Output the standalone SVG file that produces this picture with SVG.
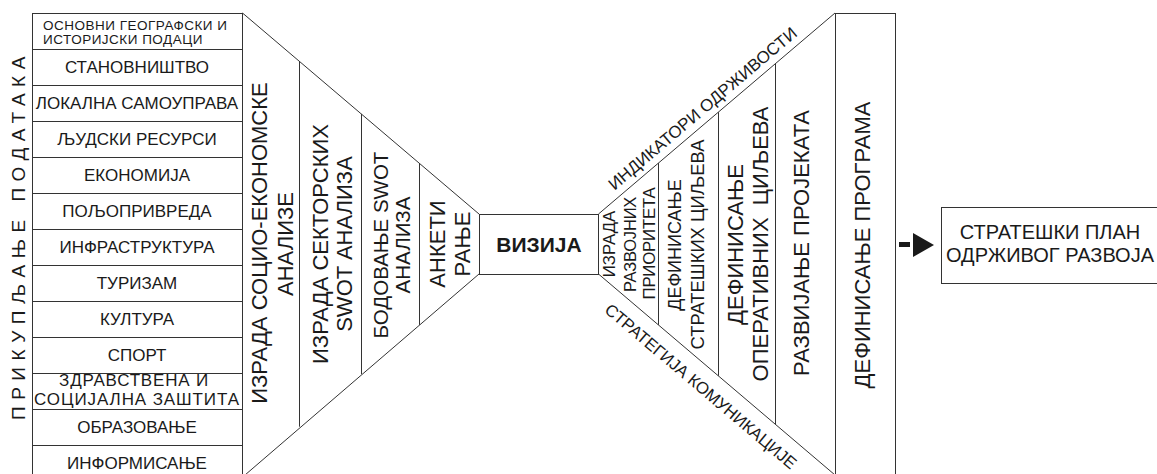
<svg xmlns="http://www.w3.org/2000/svg" width="1157" height="474" viewBox="0 0 1157 474">
<style>
.ln{fill:none;stroke:#333;stroke-width:1}
.bx{fill:#fff;stroke:#333;stroke-width:1}
.t{font-family:"Liberation Sans",Arial,sans-serif;fill:#1a1a1a;text-anchor:middle}
.r{font-size:17px}
.c{font-size:22px}
</style>
<rect width="1157" height="474" fill="#fff"/>

<g id="label-prikupljanje">
<text class="t" style="text-anchor:start;font-size:19px;letter-spacing:6.5px" transform="translate(25,420) rotate(-90)" x="0" y="0">ПРИКУПЉАЊЕ ПОДАТАКА</text>
</g>

<g id="data-list">
<g id="row-osnovni"><rect class="bx" x="32.5" y="13.5" width="210" height="36"/>
<text class="t" style="font-size:13.5px;letter-spacing:0.5px;text-anchor:start" x="43" y="30">ОСНОВНИ ГЕОГРАФСКИ И</text>
<text class="t" style="font-size:13.5px;letter-spacing:0.5px;text-anchor:start" x="43" y="44">ИСТОРИЈСКИ ПОДАЦИ</text></g>
<g id="row-stanovnistvo"><rect class="bx" x="32.5" y="49.5" width="210" height="36"/><text class="t r" x="137" y="73">СТАНОВНИШТВО</text></g>
<g id="row-lokalna"><rect class="bx" x="32.5" y="85.5" width="210" height="36"/><text class="t r" x="137" y="109">ЛОКАЛНА САМОУПРАВА</text></g>
<g id="row-ljudski"><rect class="bx" x="32.5" y="121.5" width="210" height="36"/><text class="t r" x="137" y="145">ЉУДСКИ РЕСУРСИ</text></g>
<g id="row-ekonomija"><rect class="bx" x="32.5" y="157.5" width="210" height="36"/><text class="t r" x="137" y="181">ЕКОНОМИЈА</text></g>
<g id="row-poljoprivreda"><rect class="bx" x="32.5" y="193.5" width="210" height="36"/><text class="t r" x="137" y="217">ПОЉОПРИВРЕДА</text></g>
<g id="row-infrastruktura"><rect class="bx" x="32.5" y="229.5" width="210" height="36"/><text class="t r" x="137" y="253">ИНФРАСТРУКТУРА</text></g>
<g id="row-turizam"><rect class="bx" x="32.5" y="265.5" width="210" height="36"/><text class="t r" x="137" y="289">ТУРИЗАМ</text></g>
<g id="row-kultura"><rect class="bx" x="32.5" y="301.5" width="210" height="36"/><text class="t r" x="137" y="325">КУЛТУРА</text></g>
<g id="row-sport"><rect class="bx" x="32.5" y="337.5" width="210" height="36"/><text class="t r" x="137" y="361">СПОРТ</text></g>
<g id="row-zdravstvena"><rect class="bx" x="32.5" y="373.5" width="210" height="36"/>
<text class="t r" style="letter-spacing:0.8px" x="134" y="386">ЗДРАВСТВЕНА И</text>
<text class="t r" style="letter-spacing:0.9px" x="137" y="405">СОЦИЈАЛНА ЗАШТИТА</text></g>
<g id="row-obrazovanje"><rect class="bx" x="32.5" y="409.5" width="210" height="36"/><text class="t r" x="137" y="433">ОБРАЗОВАЊЕ</text></g>
<g id="row-informisanje"><rect class="bx" x="32.5" y="445.5" width="210" height="36"/><text class="t r" x="137" y="469">ИНФОРМИСАЊЕ</text></g>
</g>

<g id="analysis-funnel">
<polyline class="ln" points="242.5,13 479,214"/>
<polyline class="ln" points="479,274 245,475"/>
<line class="ln" x1="299.5" y1="61.3" x2="299.5" y2="426.7"/>
<line class="ln" x1="361.5" y1="113.9" x2="361.5" y2="374.1"/>
<line class="ln" x1="419.5" y1="163.1" x2="419.5" y2="324.9"/>
<g id="col-socio">
<text class="t c" transform="translate(267,243) rotate(-90)">ИЗРАДА СОЦИО-ЕКОНОМСКЕ</text>
<text class="t c" transform="translate(293,244) rotate(-90)">АНАЛИЗЕ</text></g>
<g id="col-sektorskih">
<text class="t c" transform="translate(328,244) rotate(-90)">ИЗРАДА СЕКТОРСКИХ</text>
<text class="t c" transform="translate(352,244) rotate(-90)">SWOT АНАЛИЗА</text></g>
<g id="col-bodovanje">
<text class="t" style="font-size:20.5px" transform="translate(388,245) rotate(-90)">БОДОВАЊЕ SWOT</text>
<text class="t" style="font-size:20.5px" transform="translate(410,245) rotate(-90)">АНАЛИЗА</text></g>
<g id="col-anketiranje">
<text class="t c" transform="translate(445,244) rotate(-90)">АНКЕТИ</text>
<text class="t c" transform="translate(470,244) rotate(-90)">РАЊЕ</text></g>
</g>

<g id="vizija">
<rect class="bx" x="479.5" y="214.5" width="119" height="60"/>
<text class="t" style="font-size:21px;font-weight:bold" x="539" y="252">ВИЗИЈА</text>
</g>

<g id="strategy-funnel">
<polyline class="ln" points="598.5,214 835,13"/>
<polyline class="ln" points="598.5,274 835,475"/>
<line class="ln" x1="658.5" y1="163.1" x2="658.5" y2="324.9"/>
<line class="ln" x1="718.5" y1="112.2" x2="718.5" y2="375.8"/>
<line class="ln" x1="775.5" y1="63.9" x2="775.5" y2="424.1"/>
<g id="col-prioriteti">
<text class="t" style="font-size:16.8px" transform="translate(615,244) rotate(-90)">ИЗРАДА</text>
<text class="t" style="font-size:16.5px;letter-spacing:-0.2px" transform="translate(636,244.5) rotate(-90)">РАЗВОЈНИХ</text>
<text class="t" style="font-size:16.8px;letter-spacing:-0.2px" transform="translate(655,243.5) rotate(-90)">ПРИОРИТЕТА</text></g>
<g id="col-strateski">
<text class="t" style="font-size:18px" transform="translate(681,245) rotate(-90)">ДЕФИНИСАЊЕ</text>
<text class="t" style="font-size:18.4px" transform="translate(704,244.5) rotate(-90)">СТРАТЕШКИХ ЦИЉЕВА</text></g>
<g id="col-operativni">
<text class="t c" transform="translate(743,244.5) rotate(-90)">ДЕФИНИСАЊЕ</text>
<text class="t c" transform="translate(768,244) rotate(-90)">ОПЕРАТИВНИХ&#160; ЦИЉЕВА</text></g>
<g id="col-projekti">
<text class="t c" transform="translate(809,243) rotate(-90)">РАЗВИЈАЊЕ ПРОЈЕКАТА</text></g>
<g id="indikatori">
<text class="t" style="font-size:17px" transform="translate(710.9,118.3) rotate(-40.3)" x="0" y="-7">ИНДИКАТОРИ ОДРЖИВОСТИ</text></g>
<g id="komunikacija">
<text class="t" style="font-size:16.8px" transform="translate(713.2,371.7) rotate(40.3)" x="0" y="25">СТРАТЕГИЈА КОМУНИКАЦИЈЕ</text></g>
</g>

<g id="programi">
<rect class="bx" x="835.5" y="13.5" width="60" height="480"/>
<text class="t c" transform="translate(870,245) rotate(-90)">ДЕФИНИСАЊЕ ПРОГРАМА</text>
</g>

<g id="connectors">
<rect x="899" y="242" width="11" height="5" fill="#1a1a1a"/>
<polygon points="913,233 934,245 913,257" fill="#1a1a1a"/>
</g>

<g id="strateski-plan">
<rect class="bx" x="941.5" y="207.5" width="230" height="76"/>
<text class="t" style="font-size:20px" x="1050" y="239">СТРАТЕШКИ ПЛАН</text>
<text class="t" style="font-size:20px" x="1050" y="262">ОДРЖИВОГ РАЗВОЈА</text>
</g>
</svg>
